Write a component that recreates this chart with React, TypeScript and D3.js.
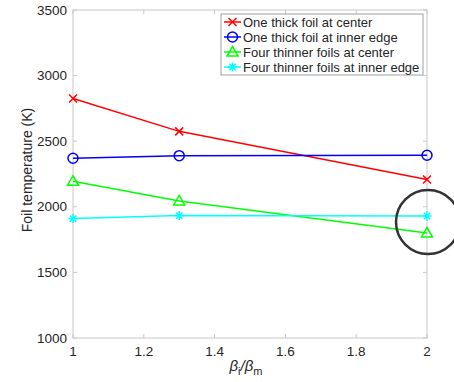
import React from "react";
import * as d3 from "d3";

const xValues = [1, 1.3, 2];
const seriesNames = [
  "One thick foil at center",
  "One thick foil at inner edge",
  "Four thinner foils at center",
  "Four thinner foils at inner edge",
];
const redValues = [2825, 2575, 2208];
const blueValues = [2370, 2390, 2393];
const greenValues = [2195, 2045, 1800];
const cyanValues = [1910, 1933, 1930];
const xTicks = [1, 1.2, 1.4, 1.6, 1.8, 2];
const yTicks = [1000, 1500, 2000, 2500, 3000, 3500];
const colors = ["#ff0000", "#0000ff", "#00ff00", "#00ffff"];
const markers = ["x", "o", "tri", "star"];

const W = 454, H = 382;
const left = 73, right = 427, top = 10, bottom = 338;

function Marker({ type, x, y, color }: { type: string; x: number; y: number; color: string }) {
  const s = 4;
  if (type === "x")
    return (
      <path d={`M${x - s},${y - s}L${x + s},${y + s}M${x - s},${y + s}L${x + s},${y - s}`} stroke={color} strokeWidth={1.5} fill="none" />
    );
  if (type === "o") return <circle cx={x} cy={y} r={5} stroke={color} strokeWidth={1.5} fill="none" />;
  if (type === "tri")
    return (
      <path d={`M${x},${y - 5.5}L${x + 5.5},${y + 4}L${x - 5.5},${y + 4}Z`} stroke={color} strokeWidth={1.5} fill="none" />
    );
  const a = 4.5;
  const d = a * 0.707;
  return (
    <path
      d={`M${x - a},${y}L${x + a},${y}M${x},${y - a}L${x},${y + a}M${x - d},${y - d}L${x + d},${y + d}M${x - d},${y + d}L${x + d},${y - d}`}
      stroke={color}
      strokeWidth={1.5}
      fill="none"
    />
  );
}

export default function App() {
  const x = d3.scaleLinear().domain([1, 2]).range([left, right]);
  const y = d3.scaleLinear().domain([1000, 3500]).range([bottom, top]);
  const line = d3
    .line<number>()
    .x((_, i) => x(xValues[i]))
    .y((d) => y(d));
  const all = [redValues, blueValues, greenValues, cyanValues];
  const font = "'Liberation Sans', Arial, Helvetica, sans-serif";
  const axisColor = "#c8c8c8";
  const textColor = "#262626";
  const legX = 221, legY = 14, legW = 202, legH = 61;
  return (
    <svg width={W} height={H} style={{ position: "absolute", left: 0, top: 0 }} fontFamily={font}>
      <rect x={0} y={0} width={W} height={H} fill="#fff" />
      <rect x={left} y={top} width={right - left} height={bottom - top} fill="none" stroke={axisColor} strokeWidth={1} />
      {xTicks.map((t) => (
        <g key={"xt" + t}>
          <line x1={x(t)} x2={x(t)} y1={bottom} y2={bottom - 4} stroke={axisColor} />
          <line x1={x(t)} x2={x(t)} y1={top} y2={top + 4} stroke={axisColor} />
          <text x={x(t)} y={bottom + 18} textAnchor="middle" fontSize={13.5} fill={textColor}>
            {t}
          </text>
        </g>
      ))}
      {yTicks.map((t) => (
        <g key={"yt" + t}>
          <line x1={left} x2={left + 4} y1={y(t)} y2={y(t)} stroke={axisColor} />
          <line x1={right} x2={right - 4} y1={y(t)} y2={y(t)} stroke={axisColor} />
          <text x={left - 6} y={y(t) + 4.5} textAnchor="end" fontSize={13.5} fill={textColor}>
            {t}
          </text>
        </g>
      ))}
      <text transform={`translate(32,${(top + bottom) / 2 - 4}) rotate(-90)`} textAnchor="middle" fontSize={14} fill={textColor}>
        Foil temperature (K)
      </text>
      <text x={(left + right) / 2 - 4} y={371} textAnchor="middle" fontSize={15} fill={textColor} fontStyle="italic">
        β<tspan fontSize={11} dy={4} fontStyle="normal">i</tspan>
        <tspan dy={-4}>/β</tspan>
        <tspan fontSize={11} dy={4} fontStyle="normal">m</tspan>
      </text>
      {all.map((vals, si) => (
        <g key={"s" + si}>
          <path d={line(vals) || ""} stroke={colors[si]} strokeWidth={1.5} fill="none" />
          {vals.map((v, i) => (
            <Marker key={i} type={markers[si]} x={x(xValues[i])} y={y(v)} color={colors[si]} />
          ))}
        </g>
      ))}
      <rect x={legX} y={legY} width={legW} height={legH} fill="#fff" stroke="#a0a0a0" strokeWidth={1} />
      {seriesNames.map((n, i) => {
        const cy = legY + 8 + i * 15;
        return (
          <g key={"l" + i}>
            <line x1={legX + 3} x2={legX + 20} y1={cy} y2={cy} stroke={colors[i]} strokeWidth={1.5} />
            <Marker type={markers[i]} x={legX + 11.5} y={cy} color={colors[i]} />
            <text x={legX + 22} y={cy + 4.5} fontSize={13} fill={textColor}>
              {n}
            </text>
          </g>
        );
      })}
      <circle cx={428} cy={222} r={32} fill="none" stroke="#333" strokeWidth={2.5} />
    </svg>
  );
}
